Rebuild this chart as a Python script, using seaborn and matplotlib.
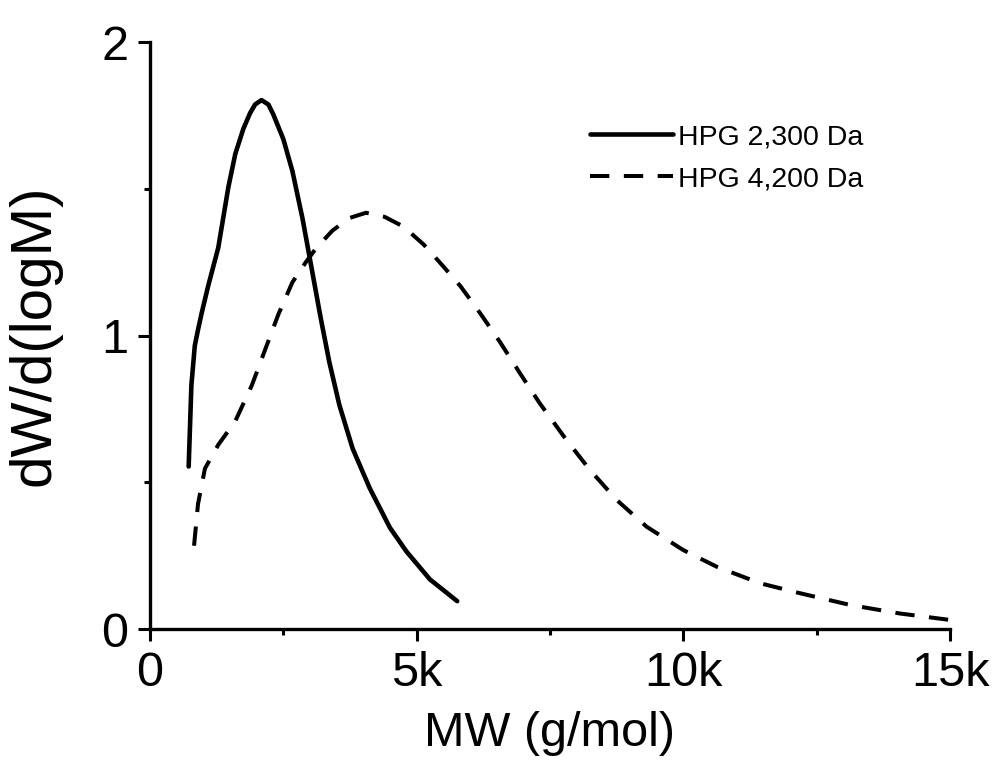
import numpy as np
import pandas as pd
import matplotlib
matplotlib.use("Agg")
import matplotlib.pyplot as plt
from matplotlib.ticker import FuncFormatter, MultipleLocator
import seaborn as sns

# molecular weight in kg/mol (converted to g/mol below) and dW/d(logM)
mw_2300 = [0.725, 0.776, 0.84, 0.90, 0.965, 1.09, 1.28, 1.47, 1.60, 1.75, 1.875,
           1.97, 2.09, 2.22, 2.31, 2.50, 2.67, 2.86, 3.01, 3.20, 3.36, 3.55, 3.80,
           4.12, 4.50, 4.81, 5.25, 5.76]
w_2300 = [0.554, 0.831, 0.966, 1.02, 1.074, 1.169, 1.30, 1.507, 1.62, 1.705, 1.758,
          1.788, 1.803, 1.788, 1.755, 1.67, 1.561, 1.399, 1.25, 1.061, 0.912, 0.764,
          0.615, 0.48, 0.345, 0.264, 0.169, 0.095]

mw_4200 = [0.826, 0.90, 1.03, 1.28, 1.60, 1.91, 2.16, 2.41, 2.67, 2.92, 3.11, 3.42,
           3.74, 4.05, 4.40, 4.75, 5.13, 5.50, 5.82, 6.20, 6.56, 6.94, 7.31, 7.81,
           8.25, 8.75, 9.31, 10.0, 10.63, 11.44, 12.19, 13.13, 14.06, 15.0]
w_4200 = [0.284, 0.426, 0.547, 0.628, 0.709, 0.831, 0.953, 1.074, 1.182, 1.25, 1.297,
          1.358, 1.401, 1.419, 1.405, 1.372, 1.311, 1.236, 1.169, 1.074, 0.979, 0.871,
          0.769, 0.644, 0.542, 0.440, 0.349, 0.269, 0.212, 0.156, 0.122, 0.082,
          0.053, 0.031]

labels = ["HPG 2,300 Da", "HPG 4,200 Da"]

df1 = pd.DataFrame({"mw": np.array(mw_2300) * 1000, "w": w_2300})
df2 = pd.DataFrame({"mw": np.array(mw_4200) * 1000, "w": w_4200})

sns.set_style("ticks")
plt.rcParams["font.family"] = ["Liberation Sans", "DejaVu Sans"]
for k in ["text.color", "axes.labelcolor", "xtick.color", "ytick.color"]:
    plt.rcParams[k] = "black"

fig = plt.figure(figsize=(10, 7.69), dpi=100)
ax = fig.add_axes([0.15, 0.182, 0.80, 0.763])

sns.lineplot(data=df1, x="mw", y="w", sort=False, color="black", lw=3.3,
             label=labels[0], ax=ax)
sns.lineplot(data=df2, x="mw", y="w", sort=False, color="black", lw=2.9,
             label=labels[1], ax=ax)
ax.lines[1].set_dashes((4.8, 3.6))
ax.lines[0].set_solid_joinstyle("round")

ax.set_xlim(0, 15000)
ax.set_ylim(0, 2)
ax.xaxis.set_major_locator(MultipleLocator(5000))
ax.xaxis.set_minor_locator(MultipleLocator(2500))
ax.yaxis.set_major_locator(MultipleLocator(1))
ax.yaxis.set_minor_locator(MultipleLocator(0.5))
ax.xaxis.set_major_formatter(FuncFormatter(lambda v, p: "0" if v == 0 else f"{int(v/1000)}k"))

for s in ["top", "right"]:
    ax.spines[s].set_visible(False)
for s in ["left", "bottom"]:
    ax.spines[s].set_linewidth(2.4)
    ax.spines[s].set_color("black")

ax.tick_params(which="major", length=8.6, width=2.2, labelsize=35, pad=7)
ax.tick_params(which="minor", length=4.5, width=2.2)

ax.set_xlabel("MW (g/mol)", fontsize=35, labelpad=11)
ax.set_ylabel("dW/d(logM)", fontsize=42)
ax.yaxis.set_label_coords(-0.11, 0.5)

leg = ax.legend(loc="upper left", bbox_to_anchor=(0.518, 0.904), frameon=False,
                fontsize=20.5, handlelength=2.9, handletextpad=0.18, labelspacing=0.56)

fig.savefig("out.png", dpi=100)
